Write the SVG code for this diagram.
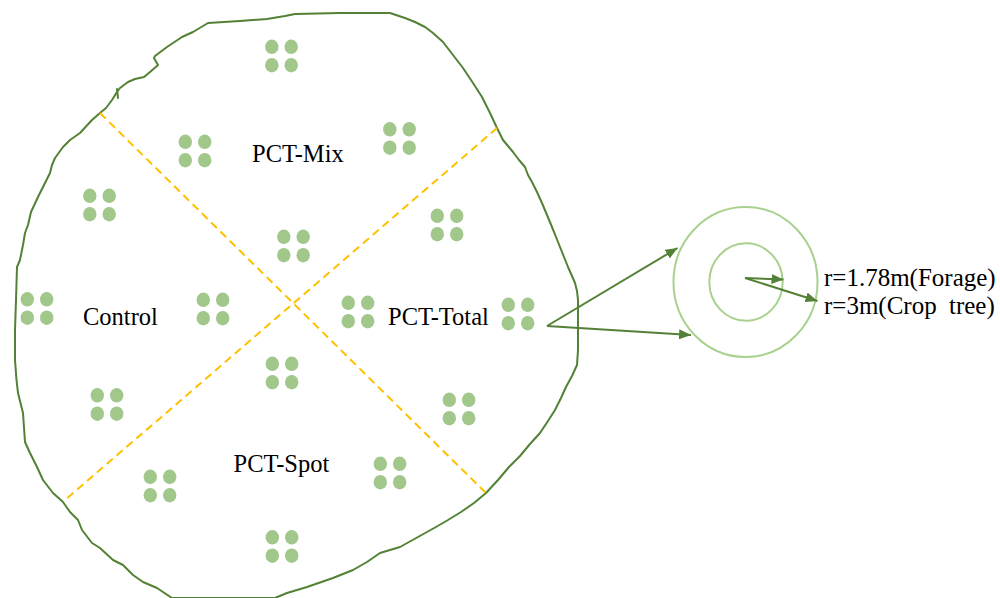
<svg xmlns="http://www.w3.org/2000/svg" width="1000" height="598" viewBox="0 0 1000 598">
<style>
.outline{fill:none;stroke:#538135;stroke-width:2;stroke-linejoin:round;stroke-linecap:round}
.div{fill:none;stroke:#FFC000;stroke-width:2;stroke-dasharray:8 5}
.dot{fill:#A1C78B}
.lbl{font-family:"Liberation Serif","Times New Roman",serif;font-size:24.5px;fill:#000}
.rl{font-family:"Liberation Serif","Times New Roman",serif;font-size:25px;fill:#000}
.ring{fill:none;stroke:#A9D18E;stroke-width:2}
.arr{fill:none;stroke:#538135;stroke-width:2}
</style>
<defs>
<marker id="ah" markerUnits="userSpaceOnUse" markerWidth="12" markerHeight="10" refX="12" refY="5" orient="auto">
<path d="M0,0 L12,5 L0,10 z" fill="#538135"/>
</marker>
<g id="cl">
<ellipse class="dot" cx="-9.7" cy="-9.2" rx="6.7" ry="7.3"/>
<ellipse class="dot" cx="9.7" cy="-9.2" rx="6.7" ry="7.3"/>
<ellipse class="dot" cx="-9.7" cy="9.2" rx="6.7" ry="7.3"/>
<ellipse class="dot" cx="9.7" cy="9.2" rx="6.7" ry="7.3"/>
</g>
</defs>
<rect width="1000" height="598" fill="#fff"/>
<g id="field">
<path class="outline" d="M295,14 L340,13 L390,13 L405,18 L415,22 L425,27 L433,33 L443,42 L453,55 L463,68 L473,83 L482,97 L490,113 L497,128 L503,140 L508,146 L513,152 L519,160 L525,167 L528,175 L532,182 L537,192 L542,203 L547,215 L552,227 L556,237 L560,247 L564,257 L568,267 L572,276 L575,283 L577,291 L578,300 L578,330 L578,350 L577,365 L572,376 L566,387 L561,398 L555,410 L548,421 L540,433 L530,444 L520,456 L509,467 L498,480 L486,493 L474,503 L461,512 L448,520 L436,527 L418,537 L400,547 L380,553 L367,562 L353,570 L333,578 L307,587 L287,593 L275,598 L172,598 L157,588 L143,582 L133,575 L123,565 L113,560 L100,548 L92,543 L82,530 L78,520 L70,512 L63,502 L53,493 L43,480 L37,467 L30,453 L25,442 L23,413 L18,393 L16.5,380 L15,360 L15,330 L16,300 L17,267 L20,260 L23,245 L25,233 L28,225 L31,212 L38,197 L44,185 L50,173 L52,165 L55,158 L63,147 L70,140 L80,133 L92,120 L100,113 L106,108 L112,100 L117,92 L120,88 L128,82 L135,79 L144,77 L150,72 L158,65 L154,58 L155,56 L167,47 L182,37 L193,32 L208,23 L240,21 L267,19 L285,16 Z"/>
<path class="outline" d="M117,89 L118,98" stroke-width="1.2"/>
<line class="div" x1="100" y1="113" x2="486" y2="493"/>
<line class="div" x1="497" y1="128" x2="65" y2="500"/>
</g>
<g id="plots">
<use href="#cl" x="281.5" y="56"/>
<use href="#cl" x="195" y="151"/>
<use href="#cl" x="399.5" y="138.5"/>
<use href="#cl" x="99.5" y="205"/>
<use href="#cl" x="293.5" y="246"/>
<use href="#cl" x="447" y="225"/>
<use href="#cl" x="37" y="308.5"/>
<use href="#cl" x="213" y="309"/>
<use href="#cl" x="358" y="312"/>
<use href="#cl" x="518" y="314"/>
<use href="#cl" x="282" y="373"/>
<use href="#cl" x="107" y="404.5"/>
<use href="#cl" x="459" y="409"/>
<use href="#cl" x="160" y="486"/>
<use href="#cl" x="390" y="473"/>
<use href="#cl" x="282" y="546.5"/>
</g>
<g id="labels">
<text class="lbl" x="252" y="162">PCT-Mix</text>
<text class="lbl" x="83" y="325">Control</text>
<text class="lbl" x="388" y="324.5">PCT-Total</text>
<text class="lbl" x="233.5" y="472">PCT-Spot</text>
</g>
<g id="plot-detail">
<ellipse class="ring" cx="745.5" cy="282" rx="72" ry="75"/>
<ellipse class="ring" cx="746" cy="282" rx="36.7" ry="38.7"/>
<text class="rl" x="824" y="286">r=1.78m(Forage)</text>
<text class="rl" x="824" y="313.5" word-spacing="6">r=3m(Crop tree)</text>
</g>
<g id="connectors">
<line class="arr" x1="547" y1="326" x2="677.5" y2="248" marker-end="url(#ah)"/>
<line class="arr" x1="547" y1="326" x2="691" y2="335" marker-end="url(#ah)"/>
<line class="arr" x1="745" y1="278" x2="783.5" y2="279.5" marker-end="url(#ah)"/>
<line class="arr" x1="745" y1="278" x2="817.5" y2="301" marker-end="url(#ah)"/>
</g>
</svg>
